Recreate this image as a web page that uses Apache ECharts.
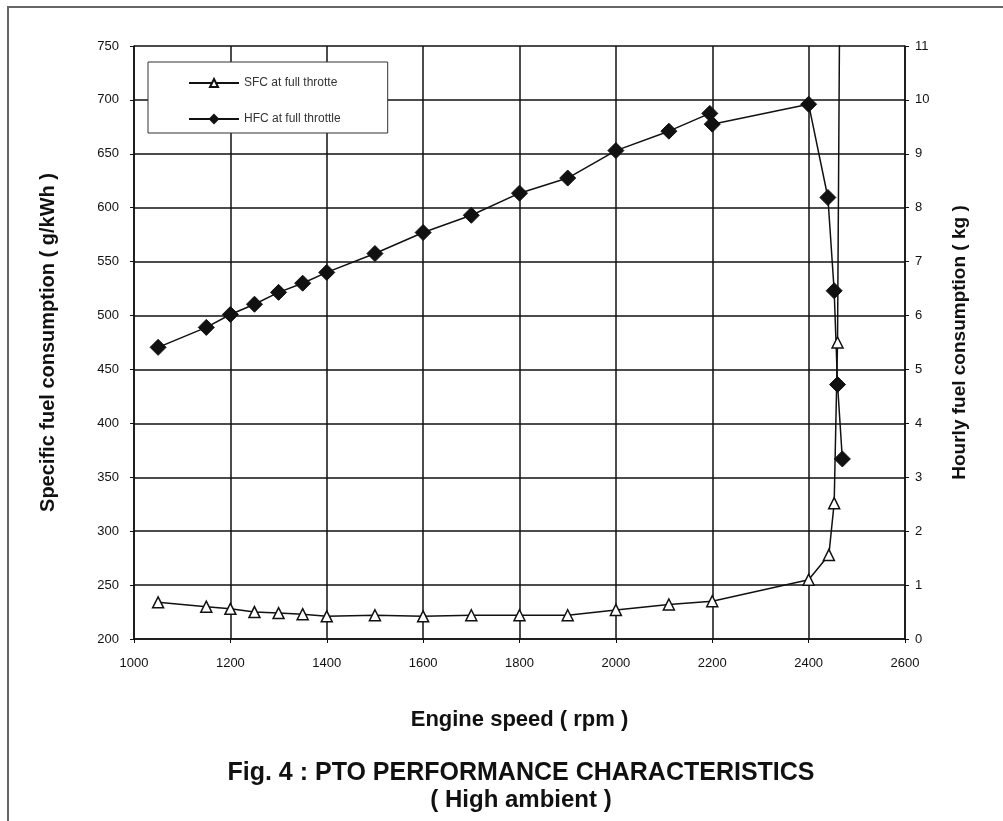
<!DOCTYPE html>
<html>
<head>
<meta charset="utf-8">
<script src="https://cdn.jsdelivr.net/npm/echarts@6/dist/echarts.min.js"></script>
<style>
html,body{margin:0;padding:0;background:#fff;}
#c{width:1003px;height:821px;}
</style>
</head>
<body>
<div id="c"></div>
<script>
// ---- data ----
const xTicks = [1000, 1200, 1400, 1600, 1800, 2000, 2200, 2400, 2600];
const sfcRpm = [1050, 1150, 1200, 1250, 1300, 1350, 1400, 1500, 1600, 1700, 1800, 1900, 2000, 2110, 2200, 2400, 2442, 2453, 2460, 2466];
const sfcVal = [234, 230, 228, 225, 224, 223, 221, 222, 221, 222, 222, 222, 227, 232, 235, 255, 278, 326, 475, 900];
const hfcRpm = [1050, 1150, 1200, 1250, 1300, 1350, 1400, 1500, 1600, 1700, 1800, 1900, 2000, 2110, 2195, 2200, 2400, 2440, 2453, 2460, 2470];
const hfcVal = [5.41, 5.78, 6.02, 6.21, 6.43, 6.6, 6.8, 7.15, 7.54, 7.86, 8.27, 8.55, 9.06, 9.42, 9.75, 9.55, 9.92, 8.19, 6.46, 4.72, 3.34];
const seriesNames = ['SFC at full throtte', 'HFC at full throttle'];
const xName = 'Engine speed ( rpm )';
const yLeftName = 'Specific fuel consumption ( g/kWh )';
const yRightName = 'Hourly fuel consumption ( kg )';
const titleText = 'Fig. 4 : PTO PERFORMANCE CHARACTERISTICS';
const subText = '( High ambient )';

const FONT = '"Liberation Sans", Arial, sans-serif';
const chart = echarts.init(document.getElementById('c'), null, {renderer: 'canvas'});
const sfcData = sfcRpm.map((x, i) => [x, sfcVal[i]]);
const hfcData = hfcRpm.map((x, i) => [x, hfcVal[i]]);
const plain = v => String(v);

chart.setOption({
  backgroundColor: '#fff',
  animation: false,
  textStyle: {fontFamily: FONT},
  graphic: [{
    type: 'polyline',
    shape: {points: [[8, 821], [8, 7], [1003, 7]]},
    style: {stroke: '#666', lineWidth: 2, fill: null},
    silent: true
  }],
  title: [{
    text: titleText,
    left: 516, top: 756, textAlign: 'center',
    textStyle: {fontFamily: FONT, fontSize: 25, fontWeight: 'bold', color: '#111'}
  }, {
    text: subText,
    left: 516, top: 783, textAlign: 'center',
    textStyle: {fontFamily: FONT, fontSize: 24, fontWeight: 'bold', color: '#111'}
  }],
  legend: {
    left: 148, top: 62, orient: 'vertical',
    backgroundColor: '#fff', borderColor: '#333', borderWidth: 1,
    padding: [15, 47, 8, 40],
    itemWidth: 50, itemHeight: 10, itemGap: 24,
    textStyle: {fontFamily: FONT, fontSize: 12, color: '#333'},
    data: seriesNames
  },
  grid: {left: 134, right: 98, top: 46, bottom: 182, containLabel: false},
  xAxis: {
    type: 'value', min: xTicks[0], max: xTicks[xTicks.length - 1], interval: 200,
    name: xName, nameLocation: 'middle', nameGap: 70,
    nameTextStyle: {fontFamily: FONT, fontSize: 22, fontWeight: 'bold', color: '#111'},
    axisLine: {lineStyle: {color: '#111', width: 1.5}},
    axisTick: {show: true, length: 4, lineStyle: {color: '#111'}},
    axisLabel: {fontFamily: FONT, fontSize: 13, color: '#111', margin: 18, formatter: plain},
    splitLine: {show: true, lineStyle: {color: '#111', width: 1.5}}
  },
  yAxis: [{
    type: 'value', min: 200, max: 750, interval: 50, position: 'left',
    name: yLeftName, nameLocation: 'middle', nameGap: 76, nameRotate: 90,
    nameTextStyle: {fontFamily: FONT, fontSize: 20, fontWeight: 'bold', color: '#111'},
    axisLine: {show: true, lineStyle: {color: '#111', width: 1.5}},
    axisTick: {show: true, length: 4, lineStyle: {color: '#111'}},
    axisLabel: {fontFamily: FONT, fontSize: 13, color: '#111', margin: 15, formatter: plain},
    splitLine: {show: true, lineStyle: {color: '#111', width: 1.5}}
  }, {
    type: 'value', min: 0, max: 11, interval: 1, position: 'right',
    name: yRightName, nameLocation: 'middle', nameGap: 45, nameRotate: 90,
    nameTextStyle: {fontFamily: FONT, fontSize: 19, fontWeight: 'bold', color: '#111'},
    axisLine: {show: true, lineStyle: {color: '#111', width: 1.5}},
    axisTick: {show: true, length: 4, lineStyle: {color: '#111'}},
    axisLabel: {fontFamily: FONT, fontSize: 13, color: '#111', margin: 10, formatter: plain},
    splitLine: {show: false}
  }],
  series: [{
    name: seriesNames[0], type: 'line', yAxisIndex: 0, data: sfcData,
    clip: true,
    symbol: 'triangle', symbolSize: 11,
    lineStyle: {color: '#111', width: 1.5},
    itemStyle: {color: '#fff', borderColor: '#111', borderWidth: 1.5}
  }, {
    name: seriesNames[1], type: 'line', yAxisIndex: 1, data: hfcData,
    clip: true,
    symbol: 'diamond', symbolSize: 16,
    lineStyle: {color: '#111', width: 1.5},
    itemStyle: {color: '#111', borderColor: '#111', borderWidth: 1}
  }]
});
</script>
</body>
</html>
